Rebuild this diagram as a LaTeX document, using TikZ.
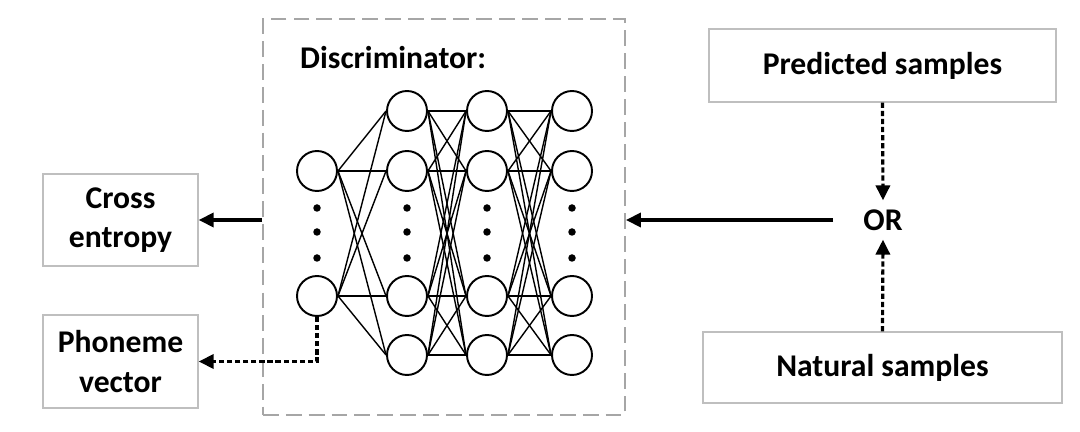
\documentclass[tikz,border=0pt]{standalone}
\usepackage{fontspec}
\setmainfont{Carlito}
\usetikzlibrary{arrows.meta}
\begin{document}
\begin{tikzpicture}[x=0.02cm, y=-0.02cm, font=\fontsize{18}{22.5}\selectfont\bfseries,
	neuron/.style={circle, draw, line width=1.1pt, minimum size=0.8cm, inner sep=0pt, fill=white},
	link/.style={line width=0.8pt},
	textbox/.style={draw=black!25, line width=0.8pt, align=center, inner sep=0pt},
	solidarrow/.style={line width=1.8pt, -{Triangle[length=8.5pt, width=8pt]}},
	dasharrow/.style={line width=1.8pt, dash pattern=on 3pt off 1.6pt, -{Triangle[length=8.5pt, width=8pt]}}]
	\useasboundingbox (0,0) rectangle (1080,432);
	% discriminator frame
	\node (disc) at (444,217)	[draw=black!35, line width=1.1pt, dash pattern=on 9pt off 4pt, minimum width=7.24cm, minimum height=7.92cm]	{};
	\node (title) at (294,58)	[anchor=west]	{Discriminator:};
	% network
	\node (n1-2) at (317,171)	[neuron]	{};
	\node (n1-3) at (317,296)	[neuron]	{};
	\foreach \c/\x in {2/407,3/487,4/572}
		\foreach \r/\y in {1/111,2/171,3/296,4/355}
			\node (n\c-\r) at (\x,\y)	[neuron]	{};
	\foreach \x in {317,407,487,572}
		\foreach \y in {208,232,258}
			\fill (\x,\y) circle (0.075cm);
	\foreach \a in {2,3}
		\foreach \b in {1,...,4}
			\draw[link] (n1-\a.east) -- (n2-\b.west);
	\foreach \a in {1,...,4}
		\foreach \b in {1,...,4} {
			\draw[link] (n2-\a.east) -- (n3-\b.west);
			\draw[link] (n3-\a.east) -- (n4-\b.west);
		}
	% outputs
	\node (ce) at (120.5,220)	[textbox, minimum width=3.1cm, minimum height=1.84cm]	{Cross\\entropy};
	\node (ph) at (120.5,361.5)	[textbox, minimum width=3.1cm, minimum height=1.86cm]	{Phoneme\\vector};
	% inputs
	\node (pred) at (882.5,65.5)	[textbox, minimum width=6.94cm, minimum height=1.46cm]	{Predicted samples};
	\node (nat) at (882.5,367.5)	[textbox, minimum width=7.18cm, minimum height=1.42cm]	{Natural samples};
	\node (or) at (883,220)	[inner sep=5pt]	{OR};
	\draw[dasharrow] (pred.south) -- (or.north);
	\draw[dasharrow] (nat.north) -- (or.south);
	\draw[solidarrow, shorten <=12pt] (or.west) -- (or -| disc.east);
	\draw[solidarrow] (ce -| disc.west) -- (ce.east);
	\draw[dasharrow] (n1-3.south) |- (ph.east);
\end{tikzpicture}
\end{document}
